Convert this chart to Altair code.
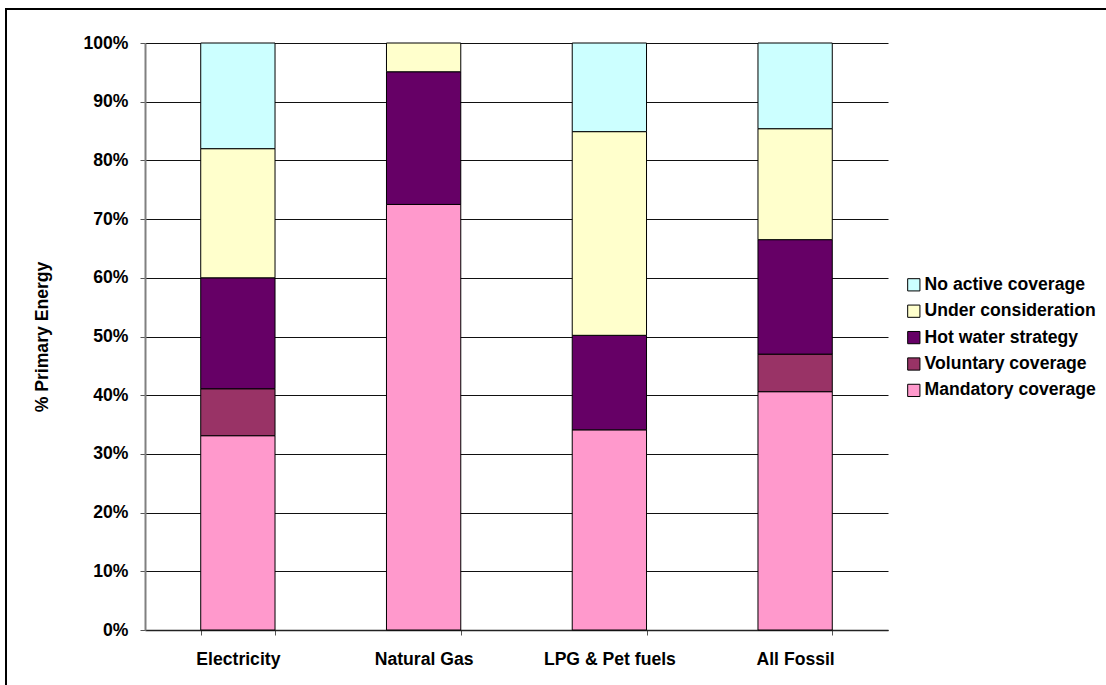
import altair as alt
import pandas as pd

# Share of primary energy by coverage status, per fuel (percent)
categories = ["Electricity", "Natural Gas", "LPG & Pet fuels", "All Fossil"]
mandatory = [33.1, 72.5, 34.1, 40.6]
voluntary = [8.0, 0.0, 0.0, 6.4]
hot_water = [18.9, 22.6, 16.1, 19.5]
under_consideration = [22.0, 4.9, 34.7, 18.9]
no_active = [18.0, 0.0, 15.1, 14.6]

# Series names, bottom of the stack first
series = [
    "Mandatory coverage",
    "Voluntary coverage",
    "Hot water strategy",
    "Under consideration",
    "No active coverage",
]
series_values = [mandatory, voluntary, hot_water, under_consideration, no_active]
series_colors = ["#FF99CC", "#993366", "#660066", "#FFFFCC", "#CCFFFF"]

rows = []
for rank, (name, vals) in enumerate(zip(series, series_values)):
    for cat, v in zip(categories, vals):
        if v > 0:
            rows.append({"fuel": cat, "status": name, "share": v, "rank": rank})
df = pd.DataFrame(rows)

FONT = "Liberation Sans"
FS = 17.6
W, H = 743, 587

bars = (
    alt.Chart(df)
    .mark_bar(stroke="black", strokeWidth=1)
    .encode(
        x=alt.X(
            "fuel:N",
            sort=categories,
            title=None,
            scale=alt.Scale(paddingInner=0.6, paddingOuter=0.3),
            axis=alt.Axis(
                labelAngle=0,
                labelFont=FONT,
                labelFontSize=FS,
                labelFontWeight="bold",
                labelColor="black",
                labelPadding=15,
                tickBand="extent",
                tickSize=5,
                tickColor="#555555",
                domainColor="#222222",
                domainWidth=1.5,
                grid=False,
            ),
        ),
        y=alt.Y(
            "share:Q",
            stack="zero",
            title="% Primary Energy",
            scale=alt.Scale(domain=[0, 100], nice=False),
            axis=alt.Axis(
                values=list(range(0, 101, 10)),
                labelExpr="datum.value + '%'",
                labelFont=FONT,
                labelFontSize=FS,
                labelFontWeight="bold",
                labelColor="black",
                labelPadding=12,
                tickSize=5,
                tickColor="#555555",
                domainColor="#808080",
                domainWidth=2,
                grid=True,
                gridColor="#111111",
                gridWidth=1,
                titleFont=FONT,
                titleFontSize=FS,
                titleFontWeight="bold",
                titleColor="black",
                titlePadding=32,
            ),
        ),
        color=alt.Color(
            "status:N",
            scale=alt.Scale(domain=series[::-1], range=series_colors[::-1]),
            legend=alt.Legend(
                title=None,
                orient="none",
                legendX=760,
                legendY=233,
                symbolType="square",
                symbolSize=150,
                symbolStrokeColor="black",
                symbolStrokeWidth=1,
                symbolOpacity=1,
                labelFont=FONT,
                labelFontSize=FS,
                labelFontWeight="bold",
                labelColor="black",
                labelOffset=2,
                labelLimit=300,
                rowPadding=7.4,
                padding=0,
            ),
        ),
        order=alt.Order("rank:Q", sort="ascending"),
    )
)

# Outer chart-area frame
frame = (
    alt.Chart(alt.Data(values=[{"f": 1}]))
    .mark_rect(fill=None, stroke="black", strokeWidth=2)
    .encode(
        x=alt.value(-139),
        x2=alt.value(980),
        y=alt.value(-34),
        y2=alt.value(660),
    )
)

chart = (
    alt.layer(bars, frame)
    .properties(
        width=W,
        height=H,
        autosize=alt.AutoSizeParams(type="none"),
        padding={"left": 145, "top": 43, "right": 218, "bottom": 55},
        background="white",
    )
    .configure_view(stroke=None)
)

chart.save("out.html", embed_options={"renderer": "svg", "actions": False})
